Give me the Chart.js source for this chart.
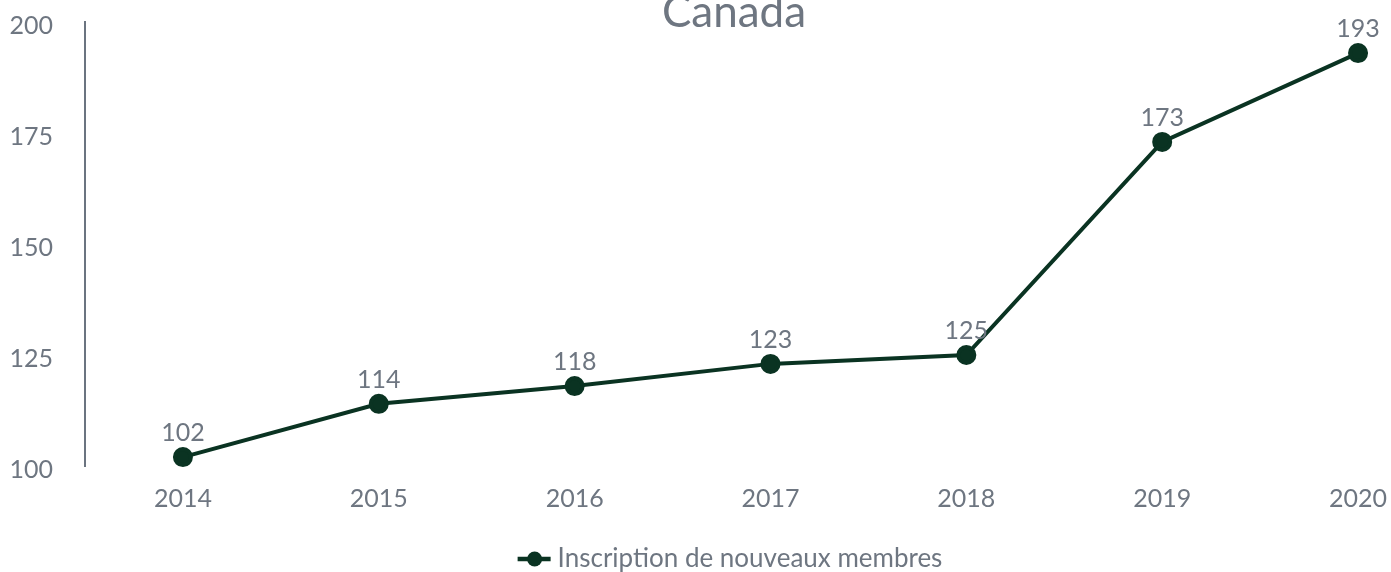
<!DOCTYPE html>
<html>
<head>
<meta charset="utf-8">
<script src="https://cdn.jsdelivr.net/npm/chart.js@4/dist/chart.umd.min.js"></script>
<style>
  html, body { margin: 0; padding: 0; background: #fff; overflow: hidden; }
  #wrap { width: 1391px; height: 572px; }
</style>
</head>
<body>
<div id="wrap"><canvas id="lineChart"></canvas></div>
<script>
// Canada - new member sign-ups per year
const years = [2014, 2015, 2016, 2017, 2018, 2019, 2020];
const signups = [102, 114, 118, 123, 125, 173, 193];
const yTicks = [100, 125, 150, 175, 200];

const titleText = 'Canada';
const seriesLabel = 'Inscription de nouveaux membres';
const lineColor = '#0a3322';
const textGrey = '#6e7681';
const fontFamily = 'Lato, "Open Sans", sans-serif';

// title, drawn partly off the top like the source
const titlePlugin = {
  id: 'topTitle',
  afterDraw(chart) {
    const { ctx, chartArea } = chart;
    ctx.save();
    ctx.font = '44px ' + fontFamily;
    ctx.fillStyle = textGrey;
    ctx.textAlign = 'center';
    ctx.textBaseline = 'alphabetic';
    ctx.fillText(titleText, (chartArea.left + chartArea.right) / 2 + 2, 27);
    ctx.restore();
  }
};

// value labels above each point
const valueLabels = {
  id: 'valueLabels',
  afterDatasetsDraw(chart) {
    const { ctx } = chart;
    const meta = chart.getDatasetMeta(0);
    ctx.save();
    ctx.font = '25px ' + fontFamily;
    ctx.fillStyle = textGrey;
    ctx.textAlign = 'center';
    ctx.textBaseline = 'middle';
    meta.data.forEach((pt, i) => {
      ctx.fillText(String(signups[i]), pt.x, pt.y - 24);
    });
    ctx.restore();
  }
};

// legend: line + dot marker, then text
const bottomLegend = {
  id: 'bottomLegend',
  afterDraw(chart) {
    const { ctx, chartArea } = chart;
    ctx.save();
    ctx.font = '26px ' + fontFamily;
    const tw = ctx.measureText(seriesLabel).width;
    const total = 40 + tw;
    const x0 = (chartArea.left + chartArea.right) / 2 - 2 - total / 2;
    const y = 559;
    ctx.strokeStyle = lineColor;
    ctx.lineWidth = 4.5;
    ctx.beginPath();
    ctx.moveTo(x0, y);
    ctx.lineTo(x0 + 33, y);
    ctx.stroke();
    ctx.fillStyle = lineColor;
    ctx.beginPath();
    ctx.arc(x0 + 17, y, 7.5, 0, Math.PI * 2);
    ctx.fill();
    ctx.fillStyle = textGrey;
    ctx.textAlign = 'left';
    ctx.textBaseline = 'middle';
    ctx.fillText(seriesLabel, x0 + 40, y);
    ctx.restore();
  }
};

const ctx = document.getElementById('lineChart').getContext('2d');
new Chart(ctx, {
  type: 'line',
  data: {
    datasets: [{
      label: seriesLabel,
      data: years.map((yr, i) => ({ x: yr, y: signups[i] })),
      borderColor: lineColor,
      backgroundColor: lineColor,
      borderWidth: 4,
      pointRadius: 8,
      pointHoverRadius: 8,
      tension: 0,
      clip: false
    }]
  },
  options: {
    responsive: true,
    maintainAspectRatio: false,
    animation: false,
    layout: { padding: { top: 22, right: 3, bottom: 40, left: 0 } },
    plugins: {
      legend: { display: false },
      title: { display: false },
      tooltip: { enabled: false }
    },
    scales: {
      x: {
        type: 'linear',
        min: 2013.5,
        max: 2020.107,
        afterBuildTicks: (scale) => { scale.ticks = years.map(v => ({ value: v })); },
        afterFit: (scale) => { scale.paddingLeft = 0; scale.paddingRight = 0; },
        grid: { display: false, drawTicks: false },
        border: { display: false },
        ticks: {
          color: textGrey,
          font: { family: fontFamily, size: 25 },
          padding: 18,
          callback: (v) => String(v),
          maxRotation: 0,
          autoSkip: false
        }
      },
      y: {
        min: 100,
        max: 200,
        afterBuildTicks: (scale) => { scale.ticks = yTicks.map(v => ({ value: v })); },
        afterFit: (scale) => { scale.width = 85; scale.paddingTop = 0; scale.paddingBottom = 0; },
        grid: { display: false, drawTicks: false },
        border: { display: true, color: '#6b7480', width: 2 },
        ticks: {
          color: textGrey,
          font: { family: fontFamily, size: 25 },
          padding: 32,
          labelOffset: 4
        }
      }
    }
  },
  plugins: [titlePlugin, valueLabels, bottomLegend]
});
</script>
</body>
</html>
